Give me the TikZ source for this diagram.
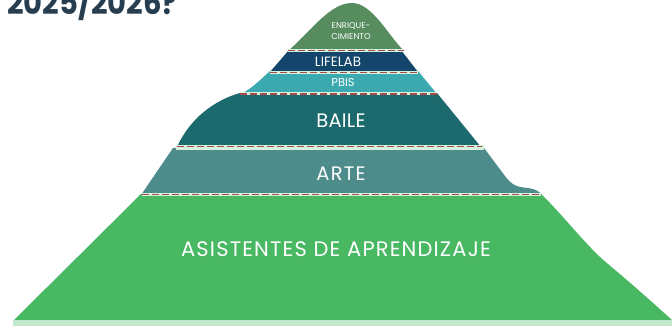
\documentclass[tikz,border=0pt]{standalone}
\usepackage{fontspec}
\setmainfont{Poppins}
\definecolor{cGreen}{HTML}{48B862}
\definecolor{cStrip}{HTML}{C2E8CB}
\definecolor{cArte}{HTML}{4E8C8B}
\definecolor{cBaile}{HTML}{1D6A6E}
\definecolor{cPbis}{HTML}{3AAAB0}
\definecolor{cLife}{HTML}{13466A}
\definecolor{cEnr}{HTML}{568C5E}
\definecolor{mint}{HTML}{D4F0DE}
\definecolor{dashred}{HTML}{A84A48}
\definecolor{cTitle}{HTML}{263E50}
\begin{document}
\begin{tikzpicture}[x=1pt,y=-1pt,
  lbl/.style={text=white,inner sep=0pt,anchor=base},
  sepband/.style={draw=mint,line width=3pt},
  sepdash/.style={draw=dashred,line width=1.8pt,dash pattern=on 7pt off 3pt}]
\useasboundingbox (0,0) rectangle (672,328);
% layers
\fill[cGreen] (141,194) -- (541,194) .. controls (560,212) and (580,238) .. (600,257) .. controls (612,268) and (620,273) .. (672,320) -- (14,320) -- cycle;
\fill[cStrip] (13,320.5) rectangle (672,326);
\fill[cArte] (173,148) -- (484,148) -- (505,176) .. controls (512,185) and (516,187) .. (528,188) .. controls (535,189) and (539,191) .. (542,195) -- (141,195) -- cycle;
\fill[cBaile] (240,93) -- (437,93) -- (481,147) -- (177,147) .. controls (190,118) and (215,100) .. (240,93) -- cycle;
\fill[cPbis] (270,71) -- (418,71) -- (437,94) -- (240,94) .. controls (250,90) and (258,82) .. (270,71) -- cycle;
\fill[cLife] (289,50) -- (401,50) -- (418,72) -- (270,72) -- cycle;
\fill[cEnr] (288,51) .. controls (312,30) and (330,3) .. (352,3) .. controls (372,3) and (388,35) .. (404,51) -- cycle;
% separators
\draw[sepband] (288,50.5) -- (404,50.5);
\draw[sepdash] (288,50.5) -- (404,50.5);
\draw[sepband] (270,72.5) -- (418,72.5);
\draw[sepdash] (270,72.5) -- (418,72.5);
\draw[sepband] (240,94) -- (437,94);
\draw[sepdash] (240,94) -- (437,94);
\fill[mint] (176,145.5) rectangle (484,150);
\draw[sepdash] (177,146.5) -- (482,146.5);
\draw[sepband] (142,194.5) -- (541,194.5);
\draw[sepdash] (142,194.5) -- (541,194.5);
% title
\node[anchor=base west,inner sep=0pt,text=cTitle,xscale=0.88,font=\bfseries\fontsize{33}{33}\selectfont] (title) at (7,15) {2025/2026?};
% labels
\node[lbl,font=\fontsize{8.4}{8.4}\selectfont] (enr1) at (351,28.5) {ENRIQUE-};
\node[lbl,font=\fontsize{8.4}{8.4}\selectfont] (enr2) at (351,40) {CIMIENTO};
\node[lbl,font=\fontsize{13.5}{13.5}\selectfont] (life) at (338,67) {LIFELAB};
\node[lbl,font=\fontsize{11.5}{11.5}\selectfont] (pbis) at (343,87) {PBIS};
\node[lbl,font=\fontsize{19.5}{19.5}\selectfont\addfontfeatures{LetterSpace=1}] (baile) at (341,128) {BAILE};
\node[lbl,font=\fontsize{19.5}{19.5}\selectfont\addfontfeatures{LetterSpace=6}] (arte) at (341,181) {ARTE};
\node[lbl,font=\fontsize{21}{21}\selectfont\addfontfeatures{LetterSpace=5.5}] (asis) at (336,257) {ASISTENTES DE APRENDIZAJE};
\end{tikzpicture}
\end{document}
